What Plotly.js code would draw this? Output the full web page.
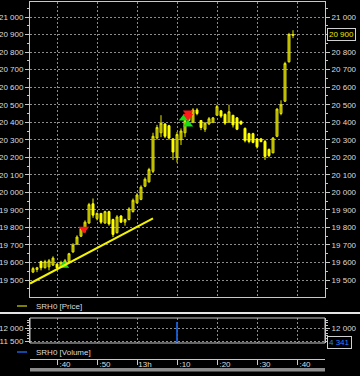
<!DOCTYPE html>
<html>
<head>
<meta charset="utf-8">
<script src="https://cdn.plot.ly/plotly-3.0.1.min.js"></script>
<style>
html,body{margin:0;padding:0;background:#000;}
#chart{width:360px;height:376px;}
</style>
</head>
<body>
<div id="chart"></div>
<script>
// ---- data ----
const day = '2010-02-01 ';
const times = ['12:34','12:35','12:36','12:37','12:38','12:39','12:40','12:41','12:42','12:43',
  '12:44','12:45','12:46','12:47','12:48','12:49','12:50','12:51','12:52','12:53',
  '12:54','12:55','12:56','12:57','12:58','12:59','13:00','13:01','13:02','13:03',
  '13:04','13:05','13:06','13:07','13:08','13:09','13:10','13:11','13:12','13:13',
  '13:14','13:15','13:16','13:17','13:18','13:19','13:20','13:21','13:22','13:23',
  '13:24','13:25','13:26','13:27','13:28','13:29','13:30','13:31','13:32','13:33',
  '13:34','13:35','13:36','13:37','13:38','13:39'];
const open = [19545,19560,19605,19570,19575,19585,19590,19575,19585,19605,
  19660,19705,19750,19790,19825,19935,19850,19880,19825,19890,
  19845,19770,19865,19830,19845,19890,19940,19960,20035,20060,
  20120,20310,20340,20390,20380,20305,20200,20300,20340,20410,
  20400,20470,20410,20360,20390,20400,20440,20465,20445,20400,
  20440,20425,20405,20365,20335,20335,20305,20305,20290,20245,
  20225,20320,20450,20520,20745,20895];
const high = [19575,19575,19610,19615,19620,19635,19595,19610,19620,19655,
  19710,19755,19800,19840,19940,19965,19885,19880,19895,19895,
  19850,19870,19870,19850,19915,19965,19995,20040,20085,20140,
  20340,20385,20440,20395,20385,20310,20345,20365,20425,20450,
  20480,20480,20410,20400,20430,20430,20500,20470,20450,20500,
  20440,20430,20410,20370,20340,20340,20310,20310,20300,20250,
  20315,20480,20525,20745,20910,20925];
const low = [19540,19545,19555,19565,19555,19580,19565,19570,19580,19600,
  19655,19700,19745,19770,19820,19855,19840,19820,19820,19810,
  19745,19765,19825,19810,19840,19885,19935,19955,20030,20055,
  20110,20300,20315,20310,20300,20185,20170,20270,20315,20410,
  20395,20440,20355,20345,20385,20395,20440,20425,20385,20400,
  20370,20355,20385,20285,20280,20280,20250,20285,20185,20200,
  20225,20315,20440,20515,20740,20880];
const close = [19565,19570,19570,19605,19610,19625,19570,19600,19610,19650,
  19700,19745,19795,19830,19930,19870,19880,19830,19890,19820,
  19760,19860,19830,19845,19905,19955,19985,20030,20075,20130,
  20320,20370,20395,20320,20310,20230,20330,20350,20410,20440,
  20470,20450,20370,20395,20420,20425,20490,20435,20395,20460,
  20385,20360,20390,20295,20290,20285,20260,20290,20205,20210,
  20310,20475,20500,20735,20900,20900];

const buyTimes = ['12:41:45','13:11:45','13:12:45'];
const buyPrices = [19583,20423,20389];
const sellTimes = ['12:46:45','13:12:45','13:12:45'];
const sellPrices = [19791,20454,20434];

const trendTimes = ['12:33:15','13:04:00'];
const trendPrices = [19480,19851];

const volTimes = ['13:10','13:39'];
const volValues = [12230,4341];

const gridTimes = ['12:40','12:50','13:00','13:10','13:20','13:30','13:40'];
const gridLabels = [':40',':50','13h',':10',':20',':30',':40'];

const lastPriceLabel = '20 900';
const lastVolLabel = '4 341';
const hiddenPriceTick = '20 900';   // right-axis label covered by the last-price box
const hiddenVolTick = '11 500';     // right-axis label covered by the last-volume box
const priceName = 'SRH0 [Price]';
const volName = 'SRH0 [Volume]';

// ---- helpers ----
const T = arr => arr.map(t => day + (t.length === 5 ? t + ':00' : t));
const W = 360, H = 376;
const fx = px => px / W;
const fy = px => 1 - px / H;
const X0 = fx(30), X1 = fx(325);
const xRange = [day + '12:33:15', day + '13:47:00'];
const priceRange = [19403, 21086];
const volRange = [11423, 12385];

const gridCol = '#8c8c8c';
const lineCol = '#c8c8c8';
const dash = '2px,2px';
const fam = 'Liberation Sans, Arial, sans-serif';
const tickFont = {family: fam, size: 8, color: '#dcdcdc'};

const volBar = (xa, ya) => ({
  type: 'bar', x: T(volTimes), y: volValues, width: 20000,
  xaxis: xa, yaxis: ya, hoverinfo: 'skip',
  marker: {color: '#1a60d8', line: {width: 0}}
});

const traces = [
  {
    type: 'candlestick', x: T(times), open: open, high: high, low: low, close: close,
    xaxis: 'x', yaxis: 'y', hoverinfo: 'skip', whiskerwidth: 0,
    increasing: {line: {color: '#e4e400', width: 1}, fillcolor: '#9a9a00'},
    decreasing: {line: {color: '#ffff00', width: 1}, fillcolor: '#ffff00'}
  },
  {
    type: 'scatter', mode: 'lines', x: T(trendTimes), y: trendPrices,
    xaxis: 'x', yaxis: 'y2', hoverinfo: 'skip',
    line: {color: '#f4f400', width: 2}
  },
  {
    type: 'scatter', mode: 'markers', x: T(buyTimes), y: buyPrices,
    xaxis: 'x', yaxis: 'y', hoverinfo: 'skip',
    marker: {symbol: 'triangle-up', size: 9, color: '#14e014', line: {width: 0}}
  },
  {
    type: 'scatter', mode: 'markers', x: T(sellTimes), y: sellPrices,
    xaxis: 'x', yaxis: 'y', hoverinfo: 'skip',
    marker: {symbol: 'triangle-down', size: 9, color: '#ff1a1a', line: {width: 0}}
  },
  volBar('x2', 'y3'),
  volBar('x2', 'y4')
];

const yCommon = {
  tick0: 0, tickformat: ',d',
  ticks: 'outside', ticklen: 4, tickcolor: lineCol,
  zeroline: false, fixedrange: true, tickfont: tickFont
};

const layout = {
  width: W, height: H,
  margin: {l: 0, r: 0, t: 0, b: 0},
  paper_bgcolor: '#000', plot_bgcolor: '#000',
  showlegend: false,
  separators: '. ',
  font: tickFont,
  xaxis: {
    domain: [X0, X1], anchor: 'y', type: 'date', range: xRange,
    tickmode: 'array', tickvals: T(gridTimes), showticklabels: false, ticks: '',
    showgrid: true, gridcolor: gridCol, griddash: dash, gridwidth: 1,
    showline: true, mirror: true, linecolor: lineCol, linewidth: 1,
    zeroline: false, rangeslider: {visible: false}, fixedrange: true
  },
  yaxis: Object.assign({}, yCommon, {
    domain: [fy(297), fy(2)], anchor: 'x', range: priceRange, dtick: 100,
    minor: {tick0: 0, dtick: 50, ticks: 'outside', ticklen: 2, tickcolor: lineCol, showgrid: false},
    showgrid: true, gridcolor: gridCol, griddash: dash, gridwidth: 1,
    showline: true, mirror: 'ticks', linecolor: lineCol, linewidth: 1
  }),
  yaxis2: Object.assign({}, yCommon, {
    overlaying: 'y', side: 'right', anchor: 'x', range: priceRange, dtick: 100,
    minor: {tick0: 0, dtick: 50, ticks: 'outside', ticklen: 2, tickcolor: lineCol, showgrid: false},
    labelalias: {[hiddenPriceTick]: ''},
    showgrid: false, showline: false
  }),
  xaxis2: {
    domain: [X0, X1], anchor: 'free', position: fy(359), side: 'bottom',
    type: 'date', range: xRange,
    tickmode: 'array', tickvals: T(gridTimes), ticktext: gridLabels,
    ticks: 'outside', ticklen: 5, tickcolor: lineCol,
    ticklabelshift: 8, ticklabelstandoff: -8,
    showgrid: true, gridcolor: gridCol, griddash: dash, gridwidth: 1,
    showline: true, linecolor: lineCol, linewidth: 1,
    zeroline: false, rangeslider: {visible: false}, fixedrange: true, tickfont: tickFont
  },
  yaxis3: Object.assign({}, yCommon, {
    domain: [fy(343), fy(318)], anchor: 'x2', range: volRange, dtick: 500,
    minor: {tick0: 0, dtick: 100, ticks: 'outside', ticklen: 2, tickcolor: lineCol, showgrid: false},
    showgrid: true, gridcolor: gridCol, griddash: dash, gridwidth: 1,
    showline: true, mirror: 'ticks', linecolor: lineCol, linewidth: 1
  }),
  yaxis4: Object.assign({}, yCommon, {
    overlaying: 'y3', side: 'right', anchor: 'x2', range: volRange, dtick: 500,
    minor: {tick0: 0, dtick: 100, ticks: 'outside', ticklen: 2, tickcolor: lineCol, showgrid: false},
    labelalias: {[hiddenVolTick]: ''},
    showgrid: false, showline: false
  }),
  shapes: [
    {type: 'line', xref: 'paper', yref: 'paper', x0: 0, x1: 1, y0: fy(313), y1: fy(313),
      line: {color: '#e4e4e4', width: 2}},
    {type: 'rect', xref: 'paper', yref: 'paper', x0: X0, x1: X1, y0: fy(343), y1: fy(318),
      line: {color: lineCol, width: 1}},
    {type: 'rect', xref: 'paper', yref: 'paper', x0: X0, x1: X1, y0: fy(371.5), y1: fy(368),
      fillcolor: '#8c8c8c', line: {width: 0}},
    {type: 'line', xref: 'paper', yref: 'paper', x0: fx(17), x1: fx(27), y0: fy(306), y1: fy(306),
      line: {color: '#a8a800', width: 1.5}},
    {type: 'line', xref: 'paper', yref: 'paper', x0: fx(17), x1: fx(27), y0: fy(352), y1: fy(352),
      line: {color: '#1a60d8', width: 1.5}}
  ],
  annotations: [
    {text: priceName, xref: 'paper', yref: 'paper', x: fx(34), y: fy(306),
      xanchor: 'left', yanchor: 'middle', showarrow: false, font: tickFont},
    {text: volName, xref: 'paper', yref: 'paper', x: fx(34), y: fy(352),
      xanchor: 'left', yanchor: 'middle', showarrow: false, font: tickFont},
    {text: lastPriceLabel, xref: 'paper', yref: 'y', x: fx(341), y: close[close.length - 1],
      xanchor: 'center', yanchor: 'middle', showarrow: false,
      font: {family: fam, size: 8, color: '#e8e800'},
      bgcolor: '#000', bordercolor: '#d0d0d0', borderwidth: 1, borderpad: 1},
    {text: lastVolLabel, xref: 'paper', yref: 'paper', x: fx(339.5), y: fy(342.5),
      xanchor: 'center', yanchor: 'middle', showarrow: false,
      font: {family: fam, size: 8, color: '#2a80ff'},
      bgcolor: '#000', bordercolor: '#d0d0d0', borderwidth: 1, borderpad: 1}
  ]
};

Plotly.newPlot('chart', traces, layout, {displayModeBar: false, staticPlot: true});
</script>
</body>
</html>
